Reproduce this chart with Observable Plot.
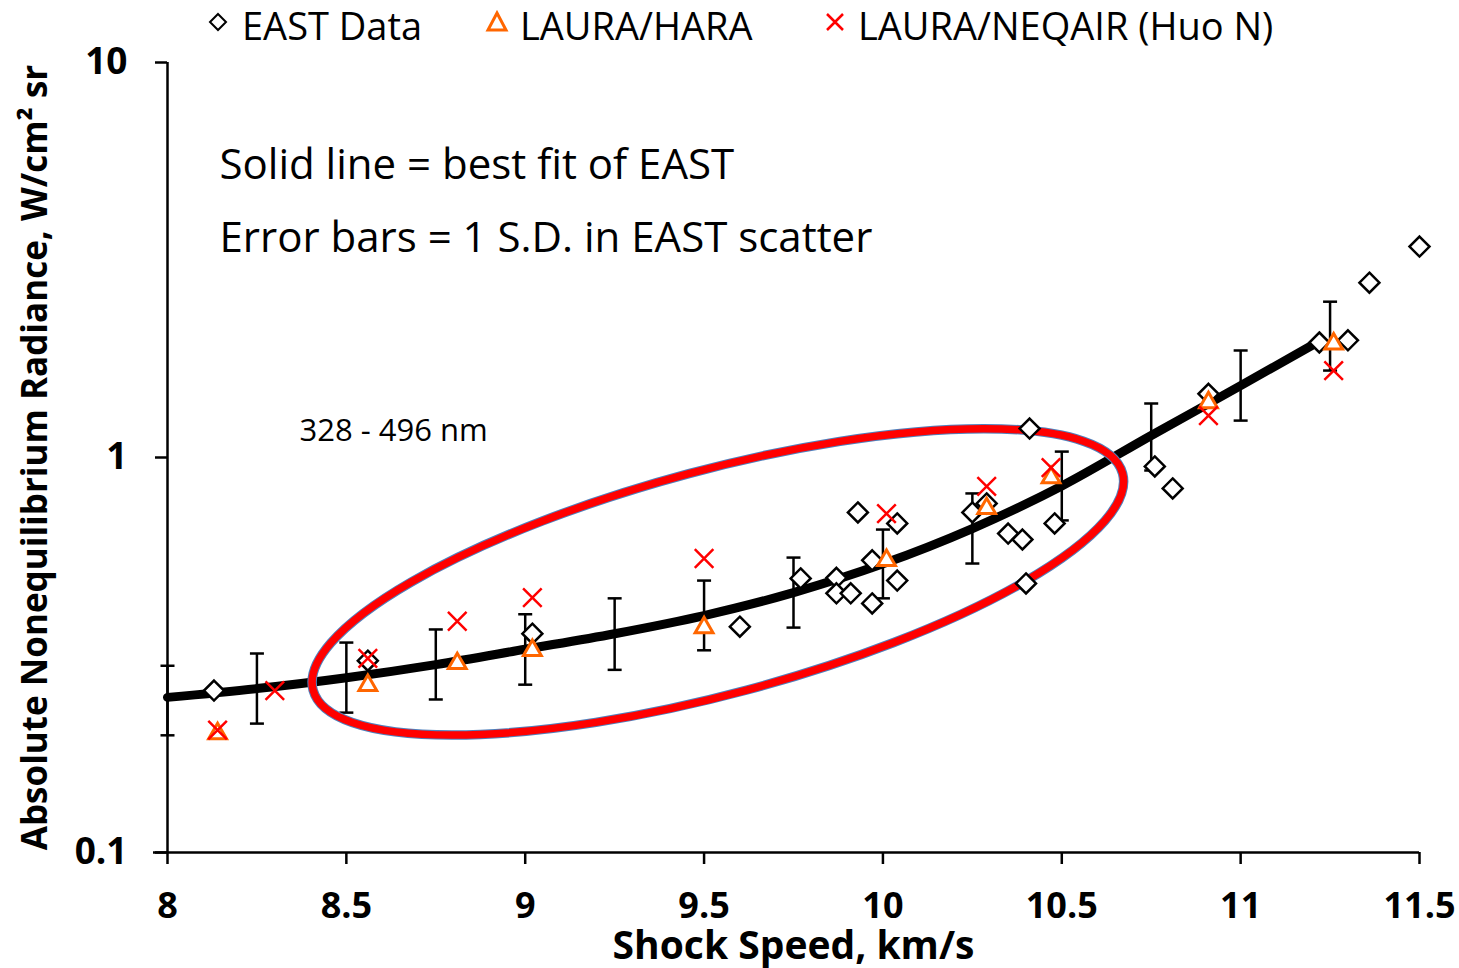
<!DOCTYPE html>
<html>
<head>
<meta charset="utf-8">
<script src="https://cdn.jsdelivr.net/npm/d3@7"></script>
<script src="https://cdn.jsdelivr.net/npm/@observablehq/plot@0.6"></script>
<style>
  body { margin: 0; background: #fff; font-family: "Open Sans", sans-serif; }
  #legend { position: relative; width: 1459px; height: 50px; }
  #legend .item { position: absolute; top: 0; height: 50px; display: flex; align-items: center; font-size: 38px; line-height: 50px; color: #000; white-space: nowrap; }
  #chart svg { display: block; }
</style>
</head>
<body>
<div id="legend"></div>
<div id="chart"></div>
<script>

// EAST measurements
const eastX = [8.13, 8.56, 9.02, 9.60, 9.77, 9.87, 9.87, 9.91, 9.93, 9.97, 9.97, 10.04, 10.04, 10.25, 10.29, 10.35, 10.39, 10.41, 10.40, 10.48, 10.76, 10.81, 10.91, 11.22, 11.30, 11.36, 11.50]
const eastY = [0.257, 0.306, 0.358, 0.373, 0.494, 0.496, 0.453, 0.453, 0.726, 0.427, 0.549, 0.681, 0.488, 0.726, 0.765, 0.642, 0.620, 1.184, 0.480, 0.681, 0.949, 0.835, 1.45, 1.955, 1.98, 2.77, 3.42]

// LAURA/HARA
const haraX = [8.14, 8.56, 8.81, 9.02, 9.50, 10.01, 10.29, 10.47, 10.91, 11.26]
const haraY = [0.200, 0.265, 0.301, 0.325, 0.371, 0.549, 0.743, 0.890, 1.378, 1.94]

// LAURA/NEQAIR (Huo N)
const neqX = [8.14, 8.30, 8.56, 8.81, 9.02, 9.50, 10.01, 10.29, 10.47, 10.91, 11.26]
const neqY = [0.204, 0.257, 0.310, 0.385, 0.442, 0.555, 0.721, 0.845, 0.943, 1.277, 1.66]

// best fit of EAST
const fitX = [8, 8.25, 8.5, 8.75, 9, 9.25, 9.5, 9.75, 10, 10.25, 10.5, 10.75, 11, 11.22]
const fitY = [0.247, 0.260, 0.277, 0.299, 0.327, 0.358, 0.398, 0.455, 0.538, 0.661, 0.847, 1.137, 1.52, 1.97]

// 1 S.D. error bars
const barX = [8, 8.25, 8.5, 8.75, 9, 9.25, 9.5, 9.75, 10, 10.25, 10.5, 10.75, 11, 11.25]
const barLo = [0.198, 0.212, 0.226, 0.244, 0.266, 0.290, 0.325, 0.371, 0.440, 0.539, 0.693, 0.927, 1.24, 1.66]
const barHi = [0.297, 0.319, 0.340, 0.367, 0.401, 0.440, 0.488, 0.558, 0.657, 0.811, 1.035, 1.37, 1.866, 2.48]

const xTicks = [8, 8.5, 9, 9.5, 10, 10.5, 11, 11.5]
const yTicks = [0.1, 1, 10]

// highlighted region (center in data units)
const ellipse = {x: 9.54, y: 0.483, rx: 419, ry: 112, angle: -15}

const east = eastX.map((x, i) => ({x, y: eastY[i]}))
const hara = haraX.map((x, i) => ({x, y: haraY[i]}))
const neq = neqX.map((x, i) => ({x, y: neqY[i]}))
const fit = fitX.map((x, i) => ({x, y: fitY[i]}))
const bars = barX.map((x, i) => ({x, lo: barLo[i], hi: barHi[i]}))

const orange = "#FF6600"
const red = "#FF0000"

// flat cap for the error bars
const capSymbol = {
  draw(context) {
    context.moveTo(-7, 0)
    context.lineTo(7, 0)
  }
}

function ellipseMark(index, scales) {
  const sx = typeof scales.x === "function" ? scales.x : scales.scales.x.apply
  const sy = typeof scales.y === "function" ? scales.y : scales.scales.y.apply
  const cx = sx(ellipse.x), cy = sy(ellipse.y)
  const g = d3.create("svg:g").attr("fill", "none")
    .attr("transform", `rotate(${ellipse.angle} ${cx} ${cy})`)
  g.append("ellipse").attr("cx", cx).attr("cy", cy).attr("rx", ellipse.rx).attr("ry", ellipse.ry)
    .attr("stroke", "#4F81BD").attr("stroke-width", 9.5)
  g.append("ellipse").attr("cx", cx).attr("cy", cy).attr("rx", ellipse.rx).attr("ry", ellipse.ry)
    .attr("stroke", red).attr("stroke-width", 7.5)
  return g.node()
}

let chart = Plot.plot({
  width: 1459,
  height: 918,
  marginLeft: 167,
  marginRight: 40,
  marginTop: 12,
  marginBottom: 116,
  style: {fontFamily: "Open Sans", background: "white", overflow: "visible"},

  x: {domain: [8, 11.5]},
  y: {type: "log", domain: [0.1, 10]},

  marks: [
    Plot.axisX(xTicks, {tickSize: 12, tickPadding: 28, strokeWidth: 2.5, fontSize: 36, fontWeight: "bold", tickFormat: d => String(d), label: null}),
    Plot.axisY(yTicks, {tickSize: 12, tickPadding: 28, strokeWidth: 2.5, fontSize: 37, fontWeight: "bold", tickFormat: d => String(d), label: null}),
    Plot.ruleY([0.1], {strokeWidth: 2.5, insetLeft: -14}),
    Plot.ruleX([8], {strokeWidth: 2.5}),

    Plot.line(fit, {x: "x", y: "y", curve: "monotone-x", strokeWidth: 9}),
    Plot.ruleX(bars, {x: "x", y1: "lo", y2: "hi", strokeWidth: 2.5}),
    Plot.dot(bars, {x: "x", y: "lo", symbol: capSymbol, stroke: "black", strokeWidth: 2.5}),
    Plot.dot(bars, {x: "x", y: "hi", symbol: capSymbol, stroke: "black", strokeWidth: 2.5}),

    ellipseMark,

    Plot.dot(east, {x: "x", y: "y", symbol: "diamond2", r: 9, stroke: "black", fill: "white", strokeWidth: 2.5}),
    Plot.dot(hara, {x: "x", y: "y", symbol: "triangle2", r: 8.5, stroke: orange, fill: "white", strokeWidth: 3}),
    Plot.dot(neq, {x: "x", y: "y", symbol: "times", r: 8.5, stroke: red, strokeWidth: 2.5}),

    Plot.text(["Solid line = best fit of EAST"], {frameAnchor: "top-left", dx: 52, dy: 103, textAnchor: "start", lineAnchor: "middle", fontSize: 42}),
    Plot.text(["Error bars = 1 S.D. in EAST scatter"], {frameAnchor: "top-left", dx: 52, dy: 176, textAnchor: "start", lineAnchor: "middle", fontSize: 42}),
    Plot.text(["328 - 496 nm"], {frameAnchor: "top-left", dx: 132, dy: 369, textAnchor: "start", lineAnchor: "middle", fontSize: 31}),

    Plot.text(["Absolute Nonequilibrium Radiance, W/cm² sr"], {frameAnchor: "left", rotate: -90, dx: -132, textAnchor: "middle", lineAnchor: "middle", fontSize: 35, fontWeight: "bold"}),
    Plot.text(["Shock Speed, km/s"], {frameAnchor: "bottom", dy: 94, textAnchor: "middle", lineAnchor: "middle", fontSize: 39, fontWeight: "bold"})
  ]
})

d3.select('#chart').append(() => chart)

// legend above the plot
const legendItems = [
  {label: "EAST Data", left: 206, gap: 12, symbol: "diamond"},
  {label: "LAURA/HARA", left: 485, gap: 11, symbol: "triangle"},
  {label: "LAURA/NEQAIR (Huo N)", left: 823, gap: 11, symbol: "times"}
]
const legend = d3.select('#legend')
legendItems.forEach(item => {
  const div = legend.append("div").attr("class", "item").style("left", item.left + "px")
  const svg = div.append("svg").attr("width", 24).attr("height", 24)
    .style("margin-right", item.gap + "px").style("margin-bottom", "6px")
  if (item.symbol === "diamond") {
    svg.append("polygon").attr("points", "12,4 20,12 12,20 4,12")
      .attr("fill", "none").attr("stroke", "black").attr("stroke-width", 2)
  } else if (item.symbol === "triangle") {
    svg.append("polygon").attr("points", "12,3 21,20 3,20")
      .attr("fill", "none").attr("stroke", orange).attr("stroke-width", 3)
  } else {
    svg.append("path").attr("d", "M4,4L20,20M4,20L20,4")
      .attr("stroke", red).attr("stroke-width", 2.5)
  }
  div.append("span").text(item.label)
})

</script>
</body>
</html>
